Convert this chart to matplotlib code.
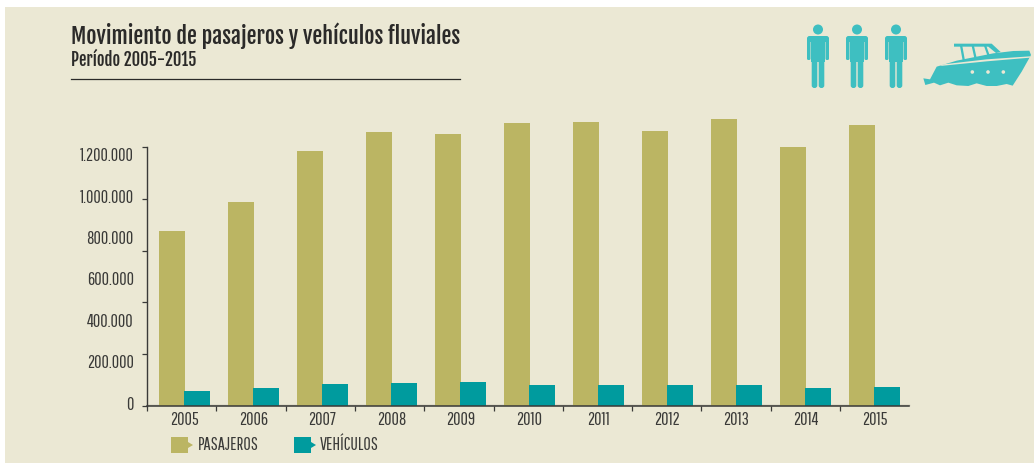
import matplotlib
matplotlib.use('Agg')
import matplotlib.pyplot as plt
from matplotlib.transforms import ScaledTranslation
import numpy as np
from matplotlib.patches import Circle, FancyBboxPatch, Polygon, Rectangle

years = ['2005', '2006', '2007', '2008', '2009', '2010', '2011', '2012', '2013', '2014', '2015']
pasajeros = [844000, 984000, 1231000, 1322000, 1313000, 1366000, 1371000, 1327000, 1385000, 1250000, 1356000]
vehiculos = [72000, 87000, 106000, 111000, 116000, 101000, 101000, 101000, 101000, 87000, 92000]
y_labels = ['0', '200.000', '400.000', '600.000', '800.000', '1.000.000', '1.200.000']
y_label_vals = [0, 200000, 400000, 600000, 800000, 1000000, 1200000]

beige = '#EBE8D4'
olive = '#BBB563'
teal = '#009B9E'
icon = '#3EBFC1'
dark = '#3A3A38'
head_font = ['Fjalla One', 'Liberation Sans', 'DejaVu Sans']
body_font = ['Pathway Gothic One', 'Liberation Sans', 'DejaVu Sans']

plt.rcParams['font.family'] = body_font

fig = plt.figure(figsize=(10.34, 4.63), dpi=100, facecolor='white')

# overlay in pixel coords for the panel, header, icons and legend
bg = fig.add_axes([0, 0, 1, 1], zorder=0)
bg.set_xlim(0, 1034)
bg.set_ylim(463, 0)
bg.axis('off')
bg.add_patch(Rectangle((5, 7), 1029, 456, color=beige, lw=0))

bg.text(71, 35.5, 'Movimiento de pasajeros y vehículos fluviales', family=head_font, fontsize=15.95,
        color='#2B2A29', va='center', ha='left')
bg.text(71, 60, 'Período 2005-2015', family=head_font, fontsize=12, color='#2B2A29', va='center', ha='left')
bg.plot([71, 460], [78.5, 78.5], color='#2B2A29', lw=0.9)


def person(cx):
    bg.add_patch(Circle((cx, 29.5), 5, color=icon, lw=0))
    bg.add_patch(Rectangle((cx - 7, 38), 14, 24, color=icon, lw=0))
    bg.add_patch(FancyBboxPatch((cx - 11, 36), 22, 6, boxstyle='round,pad=0,rounding_size=2.5', color=icon, lw=0))
    for dx in (-11, 7.5):
        bg.add_patch(FancyBboxPatch((cx + dx, 38), 3.5, 22, boxstyle='round,pad=0,rounding_size=1.4', color=icon, lw=0))
    for dx in (-6.3, 0.7):
        bg.add_patch(FancyBboxPatch((cx + dx, 58), 5.6, 30, boxstyle='round,pad=0,rounding_size=2.6', color=icon, lw=0))


for cx in (818, 857, 896):
    person(cx)


def zp(pts):
    return [(780 + x / 3, y / 3) for x, y in pts]


hull = [(430, 235), (450, 238), (470, 200), (530, 182), (640, 160), (700, 153), (748, 152), (753, 165), (725, 215),
        (698, 257), (680, 252), (650, 258), (620, 258), (590, 250), (565, 258), (530, 256), (505, 248), (480, 256),
        (462, 248), (436, 255)]
bg.add_patch(Polygon(zp(hull), color=icon, lw=0))
cabin = [(522, 131), (635, 131), (662, 156), (648, 159), (625, 140), (522, 140)]
bg.add_patch(Polygon(zp(cabin), color=icon, lw=0))
for x0, x1, y1 in [(540, 548, 182), (575, 583, 174), (612, 622, 166)]:
    bg.add_patch(Polygon(zp([(x0, 138), (x0 + 7, 138), (x1 + 7, y1), (x1, y1)]), color=icon, lw=0))
bg.add_patch(Polygon(zp([(490, 193), (620, 178), (750, 169), (750, 173), (620, 184), (480, 198)]), color=beige, lw=0))
for x in (577, 624, 670):
    bg.add_patch(Circle(zp([(x, 216)])[0], 1.8, color=beige, lw=0))

# legend
for x0, x1, tip, c, name, tx in [(171, 188, 193, olive, 'PASAJEROS', 198), (294, 311, 316, teal, 'VEHÍCULOS', 320)]:
    bg.add_patch(Polygon([(x0, 437), (x1, 437), (x1, 442), (tip, 445), (x1, 448), (x1, 453), (x0, 453)], color=c, lw=0))
    bg.text(tx, 444.5, name, fontsize=13, color=dark, va='center', ha='left')

bg.plot([147, 909], [405, 405], color='#B4B2A2', lw=1)

# main chart
top = 110
ax = fig.add_axes([147 / 1034, (463 - 406) / 463, (909 - 147) / 1034, (406 - top) / 463], zorder=1)
ax.patch.set_alpha(0)
ax.set_xlim(-0.543, 10.5)
ax.set_ylim(0, (406 - top) / 51.8 * 250000)

x = np.arange(len(years))
w = 26 / 69
ax.bar(x - 12.5 / 69, pasajeros, w, color=olive, lw=0)
ax.bar(x + 12.5 / 69, vehiculos, w, color=teal, lw=0)

for s in ('top', 'right'):
    ax.spines[s].set_visible(False)
ax.spines['left'].set_bounds(0, 1250000)
ax.spines['left'].set_color(dark)
ax.spines['bottom'].set_color(dark)
ax.spines['left'].set_linewidth(1)
ax.spines['bottom'].set_linewidth(1.1)

# ticks run every 250.000 but the printed labels every 200.000, as in the original
ax.yaxis.remove_overlapping_locs = False
ax.xaxis.remove_overlapping_locs = False
ax.set_yticks(np.arange(0, 1250001, 250000))
ax.set_yticklabels([])
ax.tick_params(axis='y', which='major', length=3.5, width=0.9, color=dark)
ax.set_yticks(y_label_vals, minor=True)
ax.set_yticklabels(y_labels, minor=True, fontsize=13, color=dark)
ax.tick_params(axis='y', which='minor', length=0, pad=9.5)
for t in ax.get_yticklabels(minor=True):
    t.set_transform(t.get_transform() + ScaledTranslation(0, 2 / 72, fig.dpi_scale_trans))

ax.set_xticks(-0.54 + 1.004 * np.arange(11))
ax.set_xticklabels([])
ax.tick_params(axis='x', which='major', length=3.5, width=0.9, color=dark)
ax.set_xticks(x, minor=True)
ax.set_xticklabels(years, minor=True, fontsize=13, color=dark)
ax.tick_params(axis='x', which='minor', length=0, pad=4.5)

fig.savefig('out.png', dpi=100, facecolor='white')
